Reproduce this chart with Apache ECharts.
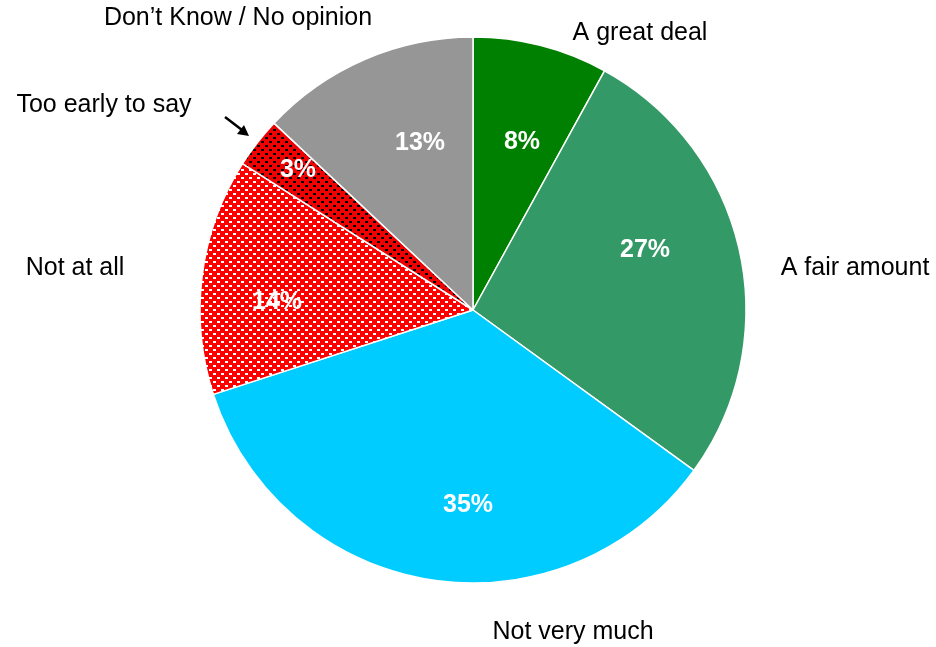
<!DOCTYPE html>
<html>
<head>
<meta charset="utf-8">
<script src="https://cdn.jsdelivr.net/npm/echarts@6/dist/echarts.min.js"></script>
<style>
  html, body { margin: 0; padding: 0; background: #fff; }
  #chart { width: 936px; height: 647px; }
</style>
</head>
<body>
<div id="chart"></div>
<script>
// Survey answers, clockwise from 12 o'clock
const categories = ['A great deal', 'A fair amount', 'Not very much', 'Not at all', 'Too early to say', 'Don\u2019t Know / No opinion'];
const values = [8, 27, 35, 14, 3, 13];

// Label placement (percent label inside each slice, category name outside)
const percentPos = [[522, 142], [645, 250], [468, 505], [277, 302], [298, 170], [420, 143]];
const namePos = [[640, 33], [855, 268], [573, 632], [75, 268], [104, 105], [238, 18]];

// Staggered dash fills for the red slices
function dotPattern(bg, dot) {
  const c = document.createElement('canvas');
  c.width = 8; c.height = 8;
  const g = c.getContext('2d');
  g.fillStyle = bg;
  g.fillRect(0, 0, 8, 8);
  g.fillStyle = dot;
  g.fillRect(1, 1, 3, 2);
  g.fillRect(5, 5, 3, 2);
  return { image: c, repeat: 'repeat' };
}

const colors = ['#008000', '#339966', '#00CCFF', dotPattern('#FF0000', '#FFFFFF'), dotPattern('#F00000', '#000000'), '#969696'];

const data = categories.map((name, i) => ({ name, value: values[i], itemStyle: { color: colors[i] } }));
const ghostData = categories.map((name, i) => ({ name, value: values[i] }));

const chart = echarts.init(document.getElementById('chart'), null, { renderer: 'canvas' });
chart.setOption({
  animation: false,
  series: [
    {
      type: 'pie',
      center: [473, 310],
      radius: [0, 273],
      startAngle: 90,
      clockwise: true,
      data: data,
      itemStyle: { borderColor: '#ffffff', borderWidth: 1.5 },
      emphasis: { disabled: true },
      label: {
        show: true,
        position: 'inside',
        formatter: '{c}%',
        color: '#ffffff',
        fontFamily: 'Liberation Sans, Arial, sans-serif',
        fontWeight: 'bold',
        fontSize: 25
      },
      labelLayout: (p) => ({ x: percentPos[p.dataIndex][0], y: percentPos[p.dataIndex][1], align: 'center', verticalAlign: 'middle' })
    },
    {
      type: 'pie',
      center: [473, 310],
      radius: [0, 273],
      startAngle: 90,
      clockwise: true,
      silent: true,
      data: ghostData,
      itemStyle: { color: 'rgba(0,0,0,0)', borderWidth: 0 },
      label: {
        show: true,
        position: 'outside',
        formatter: '{b}',
        color: '#000000',
        fontFamily: 'Liberation Sans, Arial, sans-serif',
        fontSize: 25,
        overflow: 'none',
        width: 400
      },
      labelLine: { show: false },
      labelLayout: (p) => ({ x: namePos[p.dataIndex][0], y: namePos[p.dataIndex][1], align: 'center', verticalAlign: 'middle', width: 400 })
    }
  ],
  graphic: [
    {
      type: 'line',
      shape: { x1: 225, y1: 117, x2: 242, y2: 130 },
      style: { stroke: '#000000', lineWidth: 2.5 }
    },
    {
      type: 'polygon',
      shape: { points: [[249, 136], [237, 134], [244, 125]] },
      style: { fill: '#000000' }
    }
  ]
});
</script>
</body>
</html>
